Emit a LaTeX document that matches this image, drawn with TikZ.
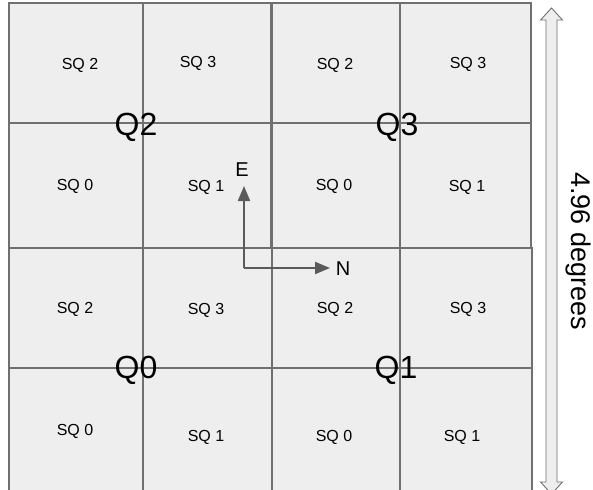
\documentclass[tikz,border=0pt]{standalone}
\usepackage{fontspec}
\setmainfont{Liberation Sans}
\usetikzlibrary{arrows.meta}
\definecolor{cellfill}{HTML}{EEEEEE}
\definecolor{gridline}{HTML}{707070}
\definecolor{arrowgray}{HTML}{5A5A5A}
\begin{document}
\begin{tikzpicture}[x=1pt,y=-1pt,
  quad/.style={fill=cellfill,draw=gridline,line width=1.2pt},
  gridln/.style={draw=gridline,line width=1.2pt},
  sqlabel/.style={inner sep=0pt,font=\fontsize{16}{19}\selectfont},
  qlabel/.style={inner sep=0pt,font=\fontsize{32}{37}\selectfont},
  dirlabel/.style={inner sep=0pt,font=\fontsize{20}{24}\selectfont},
  dirarrow/.style={draw=arrowgray,line width=2pt,-{Triangle[length=15pt,width=12pt]}},
  scalearrow/.style={fill=cellfill,draw=gridline,line width=0.9pt}]
\useasboundingbox (0,0) rectangle (593,489);
\begin{scope}
\clip (0,0) rectangle (593,489);
% Q0
\filldraw[quad] (9,248) rectangle (272,500);
\draw[gridln] (143,248) -- (143,500) (9,368) -- (272,368);
% Q1
\filldraw[quad] (272,248) rectangle (532,500);
\draw[gridln] (400,248) -- (400,500) (272,368) -- (532,368);
% Q2
\filldraw[quad] (9,3) rectangle (271,248);
\draw[gridln] (143,3) -- (143,248) (9,123) -- (271,123);
% Q3
\filldraw[quad] (272,3) rectangle (531,248);
\draw[gridln] (400,3) -- (400,248) (272,123) -- (531,123);
% scale arrow
\filldraw[scalearrow] (551.5,8) -- (562.5,20) -- (557,20) -- (557,482) -- (562.5,482)
  -- (551.5,494) -- (540.5,482) -- (546,482) -- (546,20) -- (540.5,20) -- cycle;
\end{scope}
% SQ labels
\node[sqlabel] (q2s2) at (80,65) {SQ 2};
\node[sqlabel] (q2s3) at (198,63) {SQ 3};
\node[sqlabel] (q2s0) at (75,186) {SQ 0};
\node[sqlabel] (q2s1) at (206,187) {SQ 1};
\node[sqlabel] (q3s2) at (335,65) {SQ 2};
\node[sqlabel] (q3s3) at (468,64) {SQ 3};
\node[sqlabel] (q3s0) at (334,186) {SQ 0};
\node[sqlabel] (q3s1) at (467,187) {SQ 1};
\node[sqlabel] (q0s2) at (75,309) {SQ 2};
\node[sqlabel] (q0s3) at (206,310) {SQ 3};
\node[sqlabel] (q0s0) at (75,431) {SQ 0};
\node[sqlabel] (q0s1) at (206,437) {SQ 1};
\node[sqlabel] (q1s2) at (335,309) {SQ 2};
\node[sqlabel] (q1s3) at (468,309) {SQ 3};
\node[sqlabel] (q1s0) at (334,437) {SQ 0};
\node[sqlabel] (q1s1) at (462,437) {SQ 1};
% Q labels
\node[qlabel] (q2) at (136,127) {Q2};
\node[qlabel] (q3) at (397,127) {Q3};
\node[qlabel] (q0) at (136,370) {Q0};
\node[qlabel] (q1) at (396,370) {Q1};
% direction arrows
\coordinate (origin) at (244,268);
\coordinate (etip) at (244,186);
\coordinate (ntip) at (330,268);
\node[dirlabel] (E) at (242,170) {E};
\node[dirlabel] (N) at (343,269) {N};
\draw[dirarrow] (origin) -- (etip);
\draw[dirarrow] (origin) -- (ntip);
\node[inner sep=0pt,rotate=-90,font=\fontsize{27}{32}\selectfont] (deg) at (578,251) {4.96 degrees};
\end{tikzpicture}
\end{document}
